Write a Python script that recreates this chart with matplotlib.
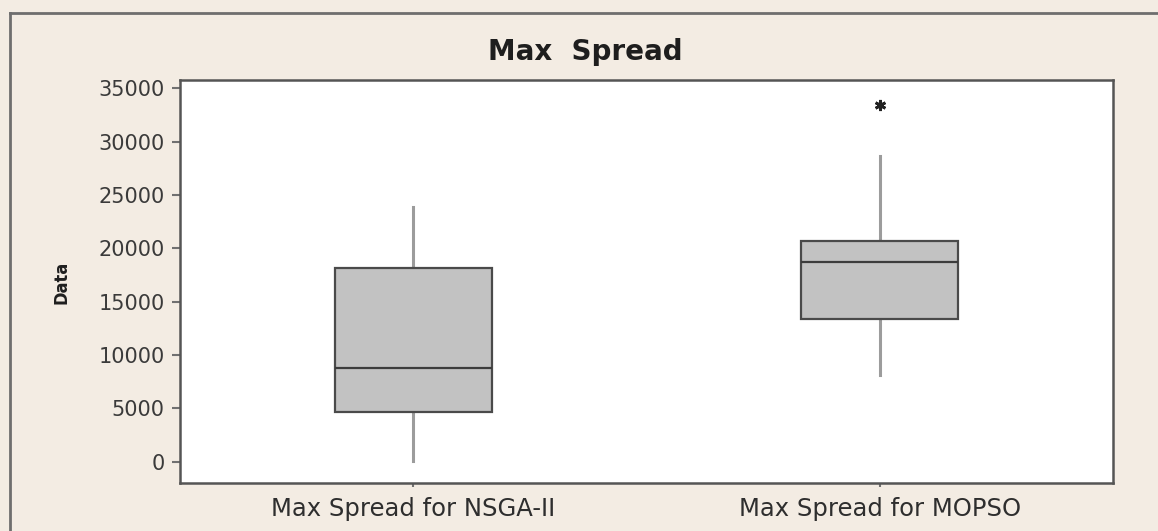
import matplotlib
matplotlib.use("Agg")
import matplotlib.pyplot as plt
from matplotlib.lines import Line2D

# ---- data ----
categories = ["Max Spread for NSGA-II", "Max Spread for MOPSO"]
q1 = [4700, 13400]
median = [8800, 18700]
q3 = [18150, 20650]
whisker_low = [100, 8150]
whisker_high = [23850, 28700]
outliers = [[], [33450]]
y_ticks = [0, 5000, 10000, 15000, 20000, 25000, 30000, 35000]
title = "Max  Spread"
y_label = "Data"

bg = "#F3ECE3"
fig = plt.figure(figsize=(11.58, 5.31), dpi=100, facecolor=bg)
ax = fig.add_axes([180 / 1158, 1 - 483 / 531, (1113 - 180) / 1158, (483 - 80) / 531])
ax.set_facecolor("white")

stats = []
for i, name in enumerate(categories):
    stats.append(dict(label=name, q1=q1[i], med=median[i], q3=q3[i],
                      whislo=whisker_low[i], whishi=whisker_high[i],
                      fliers=outliers[i]))

positions = [1, 2]
ax.bxp(stats, positions=positions, widths=0.337, patch_artist=True,
       showcaps=False,
       boxprops=dict(facecolor="#C2C2C2", edgecolor="#4A4A4A", linewidth=1.6, zorder=3),
       medianprops=dict(color="#3C3C3C", linewidth=1.6, zorder=4),
       whiskerprops=dict(color="#9C9C9C", linewidth=2.2, zorder=2),
       flierprops=dict(marker=(6, 2, 0), markersize=8, markeredgecolor="#222222",
                       markerfacecolor="#222222", markeredgewidth=2.0, linestyle="none"))

ax.set_xlim(0.5, 2.5)
ax.set_ylim(-2000, 35780)
ax.set_yticks(y_ticks)
ax.set_yticklabels([str(v) for v in y_ticks])
ax.set_xticks(positions)
ax.set_xticklabels(categories)

ax.tick_params(axis="y", direction="out", length=6, width=1.5, color="#707070",
               labelsize=15, labelcolor="#3A3A3A", pad=5)
ax.tick_params(axis="x", direction="out", length=3, width=1.5, color="#707070",
               labelsize=17.5, labelcolor="#2E2E2E", pad=7)
for sp in ax.spines.values():
    sp.set_color("#555555")
    sp.set_linewidth(1.8)

fig.text(585 / 1158, 1 - 52 / 531, title, ha="center", va="center",
         fontsize=20, fontweight="bold", color="#1E1E1E")
fig.text(61 / 1158, 1 - 282 / 531, y_label, ha="center", va="center",
         rotation=90, fontsize=13, fontweight="bold", color="#1E1E1E",
         fontstretch="condensed")

# outer frame of the graph window
fig.add_artist(Line2D([10 / 1158, 10 / 1158], [0, 1 - 13 / 531],
                      transform=fig.transFigure, color="#6E6E6E", linewidth=2))
fig.add_artist(Line2D([10 / 1158, 1], [1 - 13 / 531, 1 - 13 / 531],
                      transform=fig.transFigure, color="#6E6E6E", linewidth=2))

fig.savefig("out.png", dpi=100, facecolor=bg)
